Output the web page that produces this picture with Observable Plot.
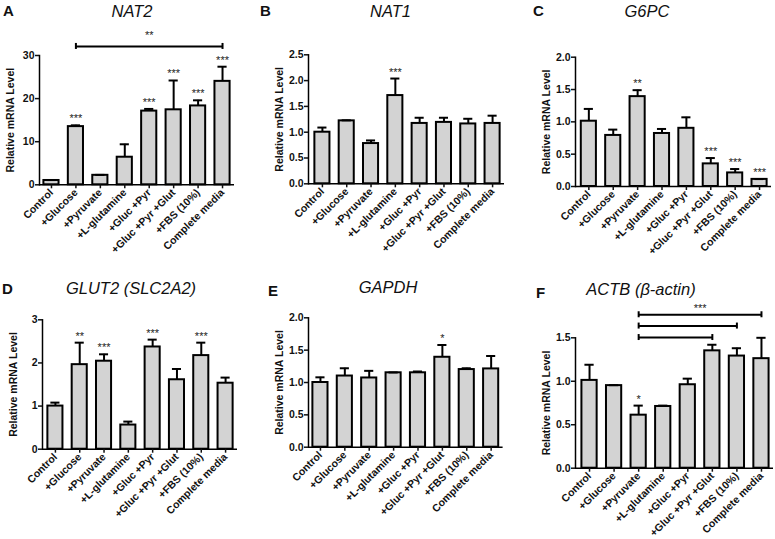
<!DOCTYPE html>
<html><head><meta charset="utf-8">
<script src="https://cdn.jsdelivr.net/npm/d3@7"></script>
<script src="https://cdn.jsdelivr.net/npm/@observablehq/plot@0.6"></script>
<style>
body{margin:0;background:#fff;}
#root{position:relative;width:775px;height:539px;overflow:hidden;font-family:"Liberation Sans",Arial,sans-serif;color:#111;}
.panel{position:absolute;}
.panel svg{max-width:none !important;}
.letter{position:absolute;font-weight:bold;font-size:15px;line-height:15px;}
.title{position:absolute;font-style:italic;font-size:16.5px;line-height:16.5px;transform:translateX(-50%);white-space:nowrap;}
</style></head><body><div id="root"></div>
<script>
const categories = ["Control","+Glucose","+Pyruvate","+L-glutamine","+Gluc +Pyr","+Gluc +Pyr +Glut","+FBS (10%)","Complete media"];

const nat2Mean = [1.0, 13.5, 2.2, 6.4, 17.1, 17.4, 18.3, 24.0];
const nat2Err  = [0.1, 0.3, 0.1, 3.0, 0.5, 6.8, 1.3, 3.4];
const nat2Sig  = ["", "***", "", "", "***", "***", "***", "***"];
const nat2Ticks = [0, 10, 20, 30];

const nat1Mean = [1.0, 1.22, 0.78, 1.71, 1.17, 1.19, 1.16, 1.17];
const nat1Err  = [0.09, 0.01, 0.06, 0.33, 0.11, 0.09, 0.10, 0.15];
const nat1Sig  = ["", "", "", "***", "", "", "", ""];
const nat1Ticks = [0, 0.5, 1.0, 1.5, 2.0, 2.5];

const g6pcMean = [1.01, 0.79, 1.39, 0.82, 0.90, 0.35, 0.21, 0.11];
const g6pcErr  = [0.19, 0.09, 0.10, 0.07, 0.17, 0.09, 0.06, 0.005];
const g6pcSig  = ["", "", "**", "", "", "***", "***", "***"];
const g6pcTicks = [0, 0.5, 1.0, 1.5, 2.0];

const glut2Mean = [1.0, 1.96, 2.04, 0.56, 2.37, 1.61, 2.17, 1.53];
const glut2Err  = [0.08, 0.51, 0.16, 0.08, 0.17, 0.25, 0.30, 0.13];
const glut2Sig  = ["", "**", "***", "", "***", "", "***", ""];
const glut2Ticks = [0, 1, 2, 3];

const gapdhMean = [1.0, 1.10, 1.07, 1.15, 1.15, 1.39, 1.20, 1.21];
const gapdhErr  = [0.08, 0.12, 0.11, 0.005, 0.02, 0.19, 0.02, 0.20];
const gapdhSig  = ["", "", "", "", "", "*", "", ""];
const gapdhTicks = [0, 0.5, 1.0, 1.5, 2.0];

const actbMean = [1.01, 0.95, 0.61, 0.71, 0.96, 1.35, 1.29, 1.26];
const actbErr  = [0.18, 0.005, 0.11, 0.01, 0.07, 0.07, 0.09, 0.24];
const actbSig  = ["", "", "*", "", "", "", "", ""];
const actbTicks = [0, 0.5, 1.0, 1.5];

const nat2BracketFrom = ["+Glucose"];
const nat2BracketTo = ["Complete media"];
const nat2BracketLevel = [32.1];
const nat2BracketLabel = ["**"];
const nat2BracketLabelLevel = [33.2];

const actbBracketFrom = ["+Pyruvate", "+Pyruvate", "+Pyruvate"];
const actbBracketTo = ["Complete media", "+FBS (10%)", "+Gluc +Pyr +Glut"];
const actbBracketLevel = [1.765, 1.635, 1.503];
const actbBracketLabel = ["***", "", ""];
const actbBracketLabelLevel = [1.765, 1.635, 1.503];

const yLabel = "Relative mRNA Level";

const f1 = d3.format(".1f");
const panels = [
  {letter:"A", title:"NAT2", mean:nat2Mean, err:nat2Err, sig:nat2Sig, ticks:nat2Ticks, fmt:d=>d,
   br:{from:nat2BracketFrom,to:nat2BracketTo,level:nat2BracketLevel,label:nat2BracketLabel,labelLevel:nat2BracketLabelLevel},
   ox:0, oy:0, w:258, h:270, mL:39, mT:55, mB:85.7, mR:24, inL:0, lx:3, ly:3, tx:132, ty:3},
  {letter:"B", title:"NAT1", mean:nat1Mean, err:nat1Err, sig:nat1Sig, ticks:nat1Ticks, fmt:f1,
   ox:258, oy:0, w:258, h:270, mL:50, mT:54.3, mB:86.7, mR:12, inL:2, lx:260, ly:3, tx:390.5, ty:3},
  {letter:"C", title:"G6PC", mean:g6pcMean, err:g6pcErr, sig:g6pcSig, ticks:g6pcTicks, fmt:f1,
   ox:516, oy:0, w:259, h:270, mL:59, mT:56.7, mB:84, mR:4, inL:1.4, lx:533, ly:3, tx:647, ty:3},
  {letter:"D", title:"GLUT2 (SLC2A2)", mean:glut2Mean, err:glut2Err, sig:glut2Sig, ticks:glut2Ticks, fmt:d=>d,
   ox:0, oy:270, w:258, h:269, mL:42, mT:49.3, mB:90.3, mR:21, inL:1, lx:2, ly:281, tx:131, ty:279.5},
  {letter:"E", title:"GAPDH", mean:gapdhMean, err:gapdhErr, sig:gapdhSig, ticks:gapdhTicks, fmt:f1,
   ox:258, oy:270, w:258, h:269, mL:50, mT:47.3, mB:92.3, mR:13.4, inL:0, lx:268, ly:283, tx:388, ty:279},
  {letter:"F", title:"ACTB (β-actin)", mean:actbMean, err:actbErr, sig:actbSig, ticks:actbTicks, fmt:f1,
   br:{from:actbBracketFrom,to:actbBracketTo,level:actbBracketLevel,label:actbBracketLabel,labelLevel:actbBracketLabelLevel},
   ox:516, oy:270, w:259, h:269, mL:59, mT:67.3, mB:71.3, mR:2, inL:2, lx:536, ly:285, tx:641, ty:281}
];

const root = document.getElementById("root");
const PI = 0.38, PO = 0.18;

for (const p of panels) {
  const data = categories.map((c, i) => ({cat: c, mean: p.mean[i], top: p.mean[i] + p.err[i], sig: p.sig[i]}));
  const step = (p.w - p.mL - p.mR - p.inL) / (categories.length - PI + 2 * PO);
  const ymax = p.ticks[p.ticks.length - 1];
  const marks = [
    Plot.barY(data, {x: "cat", y: "mean", fill: "#d3d3d3", stroke: "#000", strokeWidth: 2}),
    Plot.ruleX(data, {x: "cat", y1: "mean", y2: "top", stroke: "#000", strokeWidth: 2}),
    Plot.tickY(data, {x: "cat", y: "top", stroke: "#000", strokeWidth: 2, insetLeft: 3, insetRight: 3}),
    Plot.text(data.filter(d => d.sig), {x: "cat", y: "top", text: "sig", dy: -3, lineAnchor: "bottom", fontSize: 11, fill: "#222"}),
    Plot.ruleY([0], {stroke: "#000", strokeWidth: 1.5}),
    Plot.frame({anchor: "left", stroke: "#000", strokeWidth: 1.5}),
    Plot.axisY({ticks: p.ticks, tickFormat: p.fmt, tickSize: 4, tickPadding: 1, strokeWidth: 1.5,
      fontWeight: "bold", fontSize: 10.5, label: yLabel, labelAnchor: "center", labelArrow: "none", labelOffset: 33}),
    Plot.axisX({tickRotate: -45, tickSize: 4, tickPadding: 2, strokeWidth: 1.5, fontWeight: "bold", fontSize: 10.5, label: null})
  ];
  if (p.br) {
    const br = p.br.from.map((f, i) => ({from: f, to: p.br.to[i], level: p.br.level[i], label: p.br.label[i], labelLevel: p.br.labelLevel[i],
      half: (categories.indexOf(p.br.to[i]) - categories.indexOf(f)) / 2}));
    const ends = br.flatMap(b => [{cat: b.from, level: b.level}, {cat: b.to, level: b.level}]);
    marks.push(Plot.link(br, {x1: "from", x2: "to", y1: "level", y2: "level", stroke: "#000", strokeWidth: 2}));
    marks.push(Plot.ruleX(ends, {x: "cat", y1: "level", y2: "level", insetTop: -3, insetBottom: -3, stroke: "#000", strokeWidth: 2}));
    for (const b of br.filter(b => b.label)) {
      marks.push(Plot.text([b], {x: "from", y: "labelLevel", text: "label", dx: b.half * step, dy: -3, lineAnchor: "bottom", fontSize: 11, fill: "#222"}));
    }
  }
  const chart = Plot.plot({
    width: p.w, height: p.h,
    marginLeft: p.mL, marginRight: p.mR, marginTop: p.mT, marginBottom: p.mB,
    x: {type: "band", domain: categories, paddingInner: PI, paddingOuter: PO, insetLeft: p.inL, round: false},
    y: {domain: [0, ymax]},
    style: {fontFamily: "Liberation Sans, Arial, sans-serif", fontSize: "10.5px", color: "#111", background: "transparent", overflow: "visible"},
    marks
  });
  chart.setAttribute("width", p.w);
  chart.setAttribute("height", p.h);
  chart.style.width = p.w + "px";
  chart.style.height = p.h + "px";
  const div = document.createElement("div");
  div.className = "panel";
  div.style.left = p.ox + "px"; div.style.top = p.oy + "px";
  div.style.width = p.w + "px"; div.style.height = p.h + "px";
  div.appendChild(chart);
  root.appendChild(div);

  const L = document.createElement("div");
  L.className = "letter"; L.textContent = p.letter;
  L.style.left = p.lx + "px"; L.style.top = p.ly + "px";
  root.appendChild(L);
  const T = document.createElement("div");
  T.className = "title"; T.textContent = p.title;
  T.style.left = p.tx + "px"; T.style.top = p.ty + "px";
  root.appendChild(T);
}
</script></body></html>
